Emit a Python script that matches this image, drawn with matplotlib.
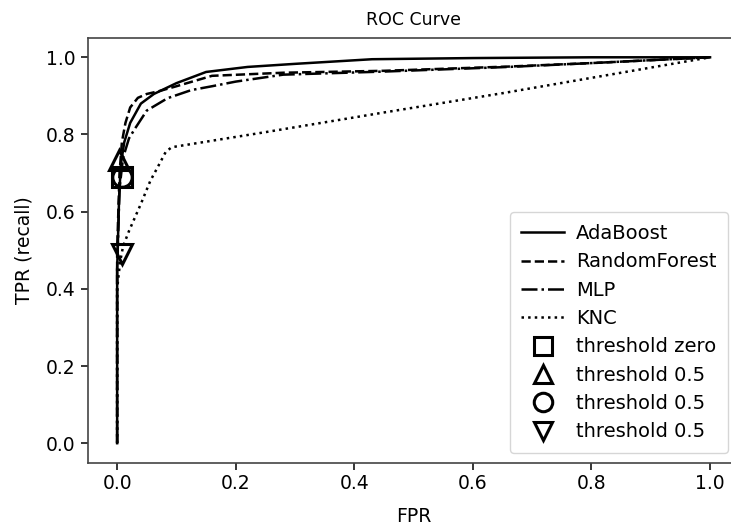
import numpy as np
import matplotlib
matplotlib.use("Agg")
import matplotlib.pyplot as plt

# ROC curves
ada_fpr = [0, 0, 0.003, 0.006, 0.012, 0.022, 0.04, 0.062, 0.1, 0.15, 0.22, 0.3, 0.43, 0.6, 0.8, 1.0]
ada_tpr = [0, 0.45, 0.62, 0.72, 0.78, 0.83, 0.88, 0.905, 0.933, 0.962, 0.975, 0.983, 0.995, 0.998, 1.0, 1.0]

rf_fpr = [0, 0, 0.004, 0.008, 0.014, 0.022, 0.035, 0.05, 0.07, 0.1, 0.16, 0.28, 0.45, 0.66, 0.8, 1.0]
rf_tpr = [0, 0.5, 0.7, 0.78, 0.83, 0.87, 0.895, 0.905, 0.912, 0.925, 0.952, 0.96, 0.965, 0.976, 0.985, 1.0]

mlp_fpr = [0, 0, 0.004, 0.01, 0.02, 0.03, 0.05, 0.085, 0.125, 0.16, 0.2, 0.28, 0.45, 0.66, 0.8, 1.0]
mlp_tpr = [0, 0.45, 0.66, 0.74, 0.79, 0.815, 0.862, 0.894, 0.915, 0.925, 0.937, 0.955, 0.963, 0.975, 0.985, 1.0]

knc_fpr = [0, 0, 0.005, 0.01, 0.02, 0.04, 0.056, 0.07, 0.082, 0.092, 0.25, 0.45, 0.65, 0.85, 1.0]
knc_tpr = [0, 0.40, 0.47, 0.51, 0.55, 0.62, 0.68, 0.72, 0.755, 0.767, 0.806, 0.857, 0.907, 0.96, 1.0]

# threshold points (fpr, tpr)
thr_zero = (0.008, 0.69)
thr_ada = (0.003, 0.735)
thr_rf = (0.008, 0.69)
thr_knc = (0.008, 0.49)

fs = 13
plt.rcParams['font.size'] = fs

fig = plt.figure(figsize=(7.31, 5.25), dpi=100)
ax = fig.add_axes([87.5 / 731, 62.5 / 525, 652.2 / 731, 424.5 / 525])

ax.plot(ada_fpr, ada_tpr, 'k-', lw=1.8, label='AdaBoost')
ax.plot(rf_fpr, rf_tpr, 'k--', lw=1.8, label='RandomForest')
ax.plot(mlp_fpr, mlp_tpr, 'k-.', lw=1.8, label='MLP')
ax.plot(knc_fpr, knc_tpr, 'k:', lw=1.8, label='KNC')

mk = dict(markersize=14, fillstyle='none', c='k', mew=2.2, linestyle='none')
ax.plot(*thr_zero, 's', label='threshold zero', **mk)
ax.plot(*thr_ada, '^', label='threshold 0.5', **mk)
ax.plot(*thr_rf, 'o', label='threshold 0.5', **mk)
ax.plot(*thr_knc, 'v', label='threshold 0.5', **mk)

ax.set_xlim(-0.05, 1.05)
ax.set_ylim(-0.05, 1.05)
ax.set_xticks([0.0, 0.2, 0.4, 0.6, 0.8, 1.0])
ax.set_yticks([0.0, 0.2, 0.4, 0.6, 0.8, 1.0])
ax.tick_params(labelsize=13.5, width=1.1, length=5)
for s in ax.spines.values():
    s.set_linewidth(1.2)
    s.set_color('#444444')

ax.set_title('ROC Curve', fontsize=12.5, pad=9)
ax.set_xlabel('FPR', fontsize=13.5, labelpad=10)
ax.set_ylabel('TPR (recall)', fontsize=13.5, labelpad=9)

ax.legend(loc='lower right', bbox_to_anchor=(0.982, 0.022), borderaxespad=0,
          fontsize=14, markerscale=0.95, handlelength=2.2, handletextpad=0.6,
          borderpad=0.6, labelspacing=0.48)

fig.savefig('out.png', dpi=100)
